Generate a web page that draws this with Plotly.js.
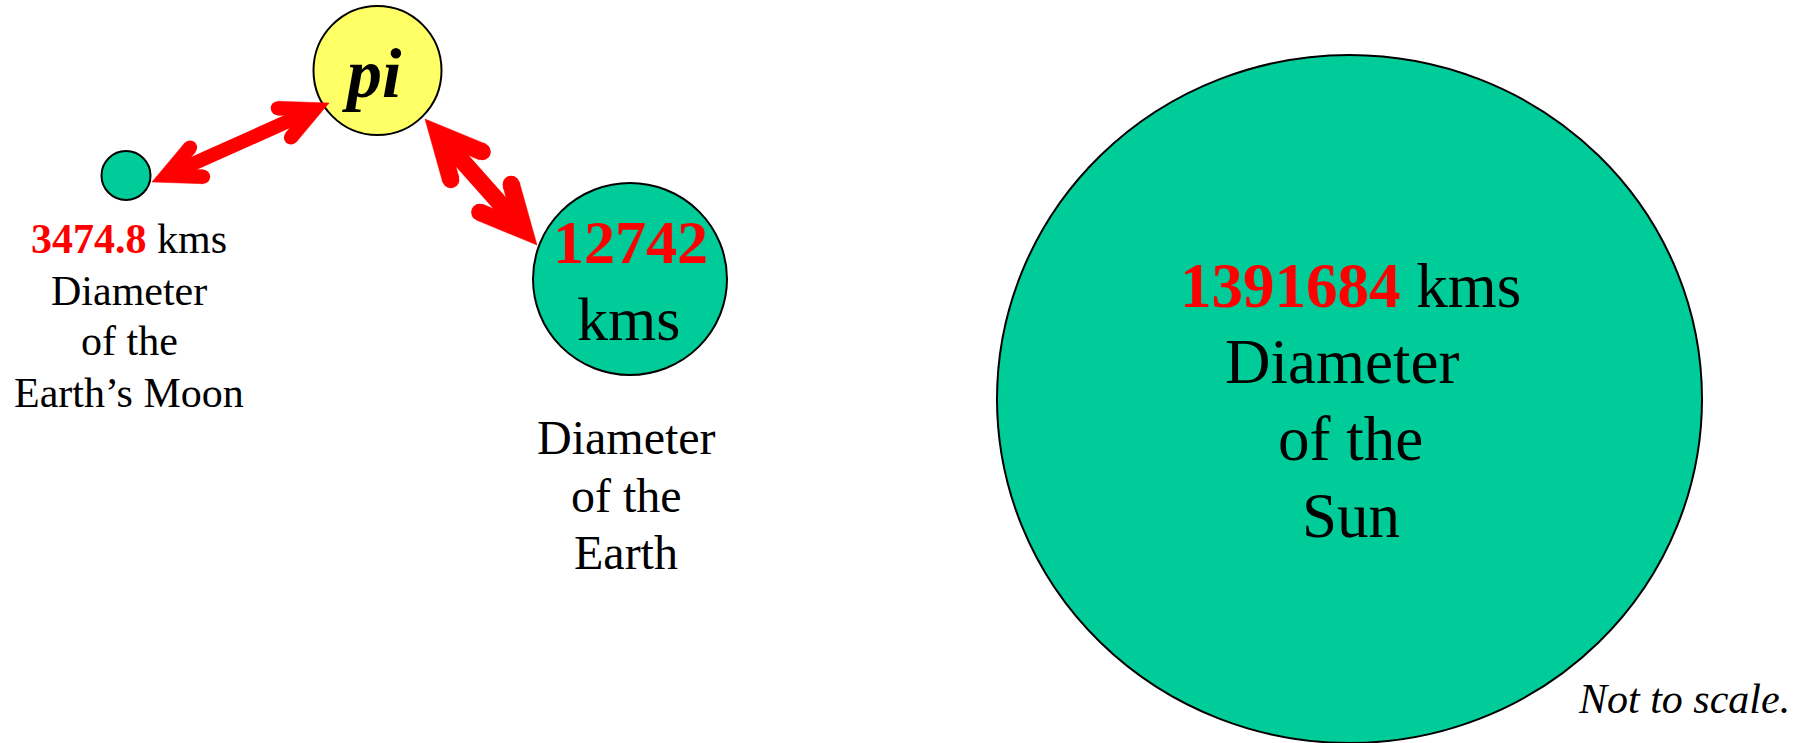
<!DOCTYPE html>
<html><head><meta charset="utf-8">
<script src="https://cdn.plot.ly/plotly-3.0.1.min.js"></script>
<style>html,body{margin:0;padding:0;background:#fff;overflow:hidden}#chart{width:1809px;height:743px}</style>
</head><body><div id="chart"></div>
<script>
// ---- data ----
const bodies = ["Earth’s Moon", "Earth", "Sun"];
const diametersKm = [3474.8, 12742, 1391684];
const unitLabel = "kms";
const diameterWords = ["Diameter", "of the"];
const centreLabel = "pi";
const noteText = "Not to scale.";

// ---- drawing geometry (pixel space of the 1809x743 canvas) ----
const W = 1809, H = 743;
const GREEN = '#00CC99', RED = '#FF0000', YELLOW = '#FFFF66';
const FONT = 'Liberation Serif, Times New Roman, serif';
const discs = [
  {cx: 126, cy: 175.5, rx: 24.5, ry: 24.5},
  {cx: 630, cy: 279, rx: 97, ry: 96},
  {cx: 1349.5, cy: 399, rx: 352.5, ry: 344}
];
const piDisc = {cx: 377.5, cy: 70.5, rx: 64, ry: 64.5};
const arrows = [
  {a: [152, 182], b: [329, 103], w: 14, len: 58, half: 26},
  {a: [425, 119], b: [537, 245], w: 17, len: 74, half: 26}
];

const shapes = [];
discs.forEach(d => shapes.push({type: 'circle', xref: 'x', yref: 'y', layer: 'below',
  x0: d.cx - d.rx, x1: d.cx + d.rx, y0: d.cy - d.ry, y1: d.cy + d.ry,
  fillcolor: GREEN, line: {color: '#000', width: 2}}));
shapes.push({type: 'circle', xref: 'x', yref: 'y', layer: 'below',
  x0: piDisc.cx - piDisc.rx, x1: piDisc.cx + piDisc.rx, y0: piDisc.cy - piDisc.ry, y1: piDisc.cy + piDisc.ry,
  fillcolor: YELLOW, line: {color: '#000', width: 2}});

const traces = [];
function rot(v, deg) {
  const r = deg * Math.PI / 180;
  return [v[0] * Math.cos(r) - v[1] * Math.sin(r), v[0] * Math.sin(r) + v[1] * Math.cos(r)];
}
const add = (p, v, k) => [p[0] + v[0] * k, p[1] + v[1] * k];
arrows.forEach(ar => {
  const dx = ar.b[0] - ar.a[0], dy = ar.b[1] - ar.a[1], d = Math.hypot(dx, dy);
  const u = [dx / d, dy / d];
  const h = ar.half * Math.PI / 180;
  const w = ar.w, Lo = ar.len - w / 2;
  const ends = [{t: ar.a, u: u}, {t: ar.b, u: [-u[0], -u[1]]}];
  const notches = ends.map(e => add(e.t, e.u, w / Math.sin(h)));
  // shaft between the two notches
  traces.push({type: 'scatter', mode: 'lines',
    x: [add(notches[0], u, -2)[0], add(notches[1], u, 2)[0]],
    y: [add(notches[0], u, -2)[1], add(notches[1], u, 2)[1]],
    line: {color: RED, width: w}, hoverinfo: 'skip'});
  ends.forEach((e, i) => {
    const d1 = rot(e.u, ar.half), d2 = rot(e.u, -ar.half);
    const n1 = rot(d1, -90), n2 = rot(d2, 90);
    const P1 = add(e.t, d1, Lo), P1i = add(P1, n1, w);
    const P2 = add(e.t, d2, Lo), P2i = add(P2, n2, w);
    const N = notches[i];
    const poly = [e.t, P1, P1i, N, P2i, P2, e.t];
    traces.push({type: 'scatter', mode: 'lines', fill: 'toself', fillcolor: RED,
      x: poly.map(p => p[0]), y: poly.map(p => p[1]),
      line: {color: RED, width: 0.5}, hoverinfo: 'skip'});
    const C1 = add(P1, n1, w / 2), C2 = add(P2, n2, w / 2);
    traces.push({type: 'scatter', mode: 'markers', x: [C1[0], C2[0]], y: [C1[1], C2[1]],
      marker: {color: RED, size: w, line: {width: 0}}, hoverinfo: 'skip'});
  });
});

function txt(x, baseline, size, html, color) {
  return {x: x, y: baseline - 0.34 * size, xref: 'x', yref: 'y', text: html, showarrow: false,
    xanchor: 'center', yanchor: 'middle', borderpad: 0,
    font: {family: FONT, size: size, color: color || '#000'}};
}
const redB = v => '<span style="color:' + RED + '"><b>' + v + '</b></span>';

const annotations = [
  // Moon
  txt(129, 253, 42, redB(String(diametersKm[0])) + ' ' + unitLabel),
  txt(129, 305, 42, diameterWords[0]),
  txt(129, 355, 42, diameterWords[1]),
  txt(129, 407, 42, bodies[0]),
  // Earth
  txt(630, 263, 62, '<b>' + String(diametersKm[1]) + '</b>', RED),
  txt(628, 340, 62, unitLabel),
  txt(626, 454, 48, diameterWords[0]),
  txt(626, 512, 48, diameterWords[1]),
  txt(626, 569, 48, bodies[1]),
  // Sun
  txt(1350, 307, 63, redB(String(diametersKm[2])) + ' ' + unitLabel),
  txt(1342, 383, 63, diameterWords[0]),
  txt(1350, 460, 63, diameterWords[1]),
  txt(1351, 537, 63, bodies[2]),
  // pi
  txt(372, 97, 70, '<b><i>' + centreLabel + '</i></b>'),
  // note
  txt(1684, 713, 42, '<i>' + noteText + '</i>')
];

const layout = {
  width: W, height: H, margin: {l: 0, r: 0, t: 0, b: 0, pad: 0},
  paper_bgcolor: '#fff', plot_bgcolor: '#fff', showlegend: false,
  xaxis: {range: [0, W], visible: false, fixedrange: true},
  yaxis: {range: [H, 0], visible: false, fixedrange: true},
  shapes: shapes, annotations: annotations
};
Plotly.newPlot('chart', traces, layout, {staticPlot: true, displayModeBar: false});
</script></body></html>
